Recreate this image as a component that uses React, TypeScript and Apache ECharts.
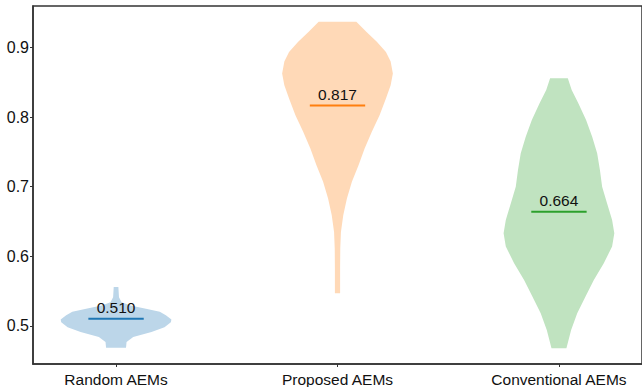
import React, { useEffect, useRef } from "react";
import * as echarts from "echarts";

// Group names and their positions on the x axis
const categories = ["Random AEMs", "Proposed AEMs", "Conventional AEMs"];
const positions = [1, 2, 3];

// Mean value of each group (drawn as the horizontal bar with its label)
const meanValues = [0.51, 0.817, 0.664];

// Kernel density outline of each group: sample levels (bottom to top)
// and the relative density (1 = widest point of that violin) at each level
const randomLevels = [0.4684, 0.4766, 0.4837, 0.491, 0.498, 0.505, 0.509, 0.515, 0.52, 0.5245, 0.529, 0.534, 0.541, 0.5557];
const randomDensity = [0.18, 0.19, 0.31, 0.64, 0.875, 0.99, 1.0, 0.9, 0.79, 0.54, 0.26, 0.1, 0.053, 0.042];

const proposedLevels = [0.5466, 0.583, 0.611, 0.635, 0.659, 0.683, 0.707, 0.731, 0.755, 0.779, 0.803, 0.827, 0.846, 0.863, 0.88, 0.894, 0.9086, 0.923, 0.9374];
const proposedDensity = [0.047, 0.047, 0.05, 0.062, 0.104, 0.17, 0.26, 0.38, 0.49, 0.62, 0.76, 0.875, 0.96, 1.0, 0.96, 0.875, 0.71, 0.52, 0.34];

const conventionalLevels = [0.4675, 0.494, 0.518, 0.542, 0.566, 0.59, 0.614, 0.633, 0.652, 0.676, 0.7, 0.724, 0.748, 0.772, 0.796, 0.82, 0.839, 0.856];
const conventionalDensity = [0.135, 0.22, 0.33, 0.48, 0.63, 0.81, 0.96, 1.0, 0.96, 0.87, 0.78, 0.74, 0.69, 0.6, 0.49, 0.35, 0.23, 0.16];

// Y axis tick values
const yTicks = [0.5, 0.6, 0.7, 0.8, 0.9];

const profiles = [
  { levels: randomLevels, density: randomDensity },
  { levels: proposedLevels, density: proposedDensity },
  { levels: conventionalLevels, density: conventionalDensity },
];

const lineColors = ["#1f77b4", "#ff7f0e", "#2ca02c"];
const fillColors = ["rgb(188,214,233)", "rgb(255,217,183)", "rgb(192,227,192)"];

// Half of the violin width, in x-axis units; mean bar is half the violin width
const VIOLIN_HALF = 0.25;
const MEAN_HALF = 0.125;

const FONT = "'Liberation Sans', Arial, Helvetica, sans-serif";

export default function App() {
  const ref = useRef<HTMLDivElement>(null);

  useEffect(() => {
    if (!ref.current) return;
    const chart = echarts.init(ref.current, null, { renderer: "svg" });

    const violinData = positions.map((p, i) => [p, meanValues[i]]);

    chart.setOption({
      animation: false,
      backgroundColor: "#ffffff",
      grid: {
        left: 33,
        right: -4,
        top: 6,
        bottom: 23,
        show: true,
        borderColor: "#333333",
        borderWidth: 1.5,
        backgroundColor: "transparent",
      },
      xAxis: {
        type: "value",
        min: 0.625,
        max: 3.375,
        splitLine: { show: false },
        axisLine: { show: true, lineStyle: { color: "#333333", width: 1.5 } },
        axisTick: {
          show: true,
          customValues: positions,
          length: 3,
          lineStyle: { color: "#333333", width: 1 },
        },
        axisLabel: {
          customValues: positions,
          formatter: (v: number) => categories[Math.round(v) - 1] ?? "",
          fontFamily: FONT,
          fontSize: 15.5,
          color: "#111111",
          margin: 7,
        },
      },
      yAxis: {
        type: "value",
        min: 0.445,
        max: 0.96,
        splitLine: { show: false },
        axisLine: { show: true, lineStyle: { color: "#333333", width: 1.5 } },
        axisTick: {
          show: true,
          customValues: yTicks,
          length: 3,
          lineStyle: { color: "#333333", width: 1 },
        },
        axisLabel: {
          customValues: yTicks,
          formatter: (v: number) => v.toFixed(1),
          fontFamily: FONT,
          fontSize: 16,
          color: "#111111",
          margin: 4,
        },
      },
      series: [
        {
          type: "custom",
          name: "violins",
          data: violinData,
          renderItem: (params: any, api: any) => {
            const i = params.dataIndex;
            const pos = api.value(0);
            const { levels, density } = profiles[i];
            const right: number[][] = [];
            const left: number[][] = [];
            for (let k = 0; k < levels.length; k++) {
              right.push(api.coord([pos + density[k] * VIOLIN_HALF, levels[k]]));
              left.push(api.coord([pos - density[k] * VIOLIN_HALF, levels[k]]));
            }
            // Right side going up, left side coming back down; flat ends
            const outline = right.concat(left.reverse());
            return {
              type: "polygon",
              shape: { points: outline },
              style: { fill: fillColors[i] },
            };
          },
          z: 1,
        },
        {
          type: "custom",
          name: "means",
          data: violinData,
          renderItem: (params: any, api: any) => {
            const i = params.dataIndex;
            const pos = api.value(0);
            const v = api.value(1);
            const a = api.coord([pos - MEAN_HALF, v]);
            const b = api.coord([pos + MEAN_HALF, v]);
            const c = api.coord([pos, v]);
            return {
              type: "group",
              children: [
                {
                  type: "line",
                  shape: { x1: a[0], y1: a[1], x2: b[0], y2: b[1] },
                  style: { stroke: lineColors[i], lineWidth: 2 },
                },
                {
                  type: "text",
                  x: c[0],
                  y: c[1] - 3,
                  style: {
                    text: v.toFixed(3),
                    align: "center",
                    verticalAlign: "bottom",
                    fontFamily: FONT,
                    fontSize: 15.5,
                    fill: "#111111",
                  },
                },
              ],
            };
          },
          z: 2,
        },
      ],
    });

    return () => chart.dispose();
  }, []);

  return (
    <div
      ref={ref}
      style={{ position: "absolute", left: 0, top: 0, width: 642, height: 387 }}
    />
  );
}
